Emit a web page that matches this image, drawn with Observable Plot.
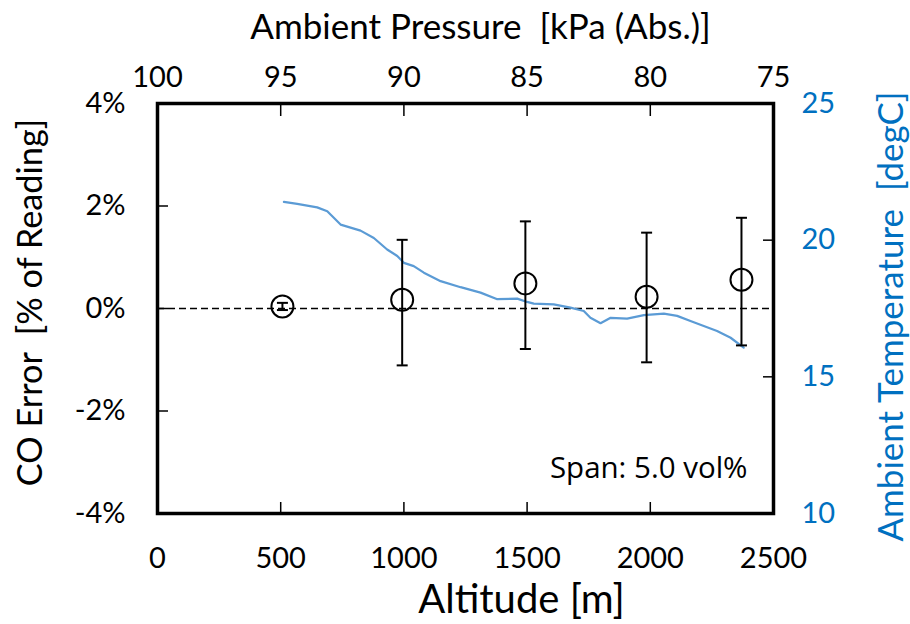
<!DOCTYPE html>
<html>
<head>
<meta charset="utf-8">
<script src="https://cdn.jsdelivr.net/npm/d3@7"></script>
<script src="https://cdn.jsdelivr.net/npm/@observablehq/plot@0.6"></script>
<style>
  html, body { margin: 0; padding: 0; background: white; }
</style>
</head>
<body>
<div id="chart"></div>
<script>
// ---- Data ----
const altitudes = [507, 993, 1493, 1985, 2370];          // m
const coError   = [0.04, 0.17, 0.49, 0.23, 0.56];        // % of reading
const errLow    = [-0.03, -1.11, -0.79, -1.05, -0.72];
const errHigh   = [0.11, 1.34, 1.70, 1.48, 1.77];

const tempAltitude = [513, 567, 648, 689, 743, 824, 878, 932, 973, 1000, 1040, 1081, 1149, 1230, 1311, 1379, 1460, 1500, 1527, 1608, 1676, 1730, 1757, 1798, 1839, 1906, 1974, 2055, 2109, 2163, 2217, 2271, 2326, 2379];
const temperature  = [21.40, 21.33, 21.20, 21.06, 20.57, 20.35, 20.08, 19.66, 19.42, 19.17, 19.05, 18.81, 18.50, 18.28, 18.08, 17.84, 17.86, 17.74, 17.68, 17.65, 17.53, 17.41, 17.16, 16.96, 17.16, 17.13, 17.26, 17.31, 17.23, 17.04, 16.86, 16.68, 16.43, 16.07];

const altitudeTicks = [0, 500, 1000, 1500, 2000, 2500];
const errorTicks    = [-4, -2, 0, 2, 4];
const pressureTicks = [100, 95, 90, 85, 80, 75];
const tempTicks     = [10, 15, 20, 25];

// ---- Secondary-axis mappings ----
const tToY = d3.scaleLinear().domain([10, 25]).range([-4, 4]);
const pToX = d3.scaleLinear().domain([100, 75]).range([0, 2500]);

const points = altitudes.map((a, i) => ({alt: a, err: coError[i], lo: errLow[i], hi: errHigh[i]}));
const tempRows = tempAltitude.map((a, i) => ({alt: a, t: temperature[i]}));

const capSymbol = {
  draw(context, size) {
    const r = Math.sqrt(size / Math.PI);
    context.moveTo(-r, 0);
    context.lineTo(r, 0);
  }
};

const BLUE_TEXT = "#0070C0";
const BLUE_LINE = "#5B9BD5";
const FS = 29;

const chart = Plot.plot({
  width: 910,
  height: 624,
  marginLeft: 157,
  marginRight: 137,
  marginTop: 103,
  marginBottom: 111,
  style: {fontFamily: "Lato, 'Open Sans', sans-serif", background: "white", color: "black", overflow: "visible"},
  x: {domain: [0, 2500]},
  y: {domain: [-4, 4]},
  marks: [
    Plot.ruleY([0], {stroke: "black", strokeWidth: 1.6, strokeDasharray: "7,4"}),
    Plot.line(tempRows, {x: "alt", y: d => tToY(d.t), stroke: BLUE_LINE, strokeWidth: 2.2}),
    Plot.ruleX(points, {x: "alt", y1: "lo", y2: "hi", stroke: "black", strokeWidth: 2}),
    Plot.dot(points, {x: "alt", y: "lo", symbol: capSymbol, r: 5.5, stroke: "black", strokeWidth: 2}),
    Plot.dot(points, {x: "alt", y: "hi", symbol: capSymbol, r: 5.5, stroke: "black", strokeWidth: 2}),
    Plot.dot(points, {x: "alt", y: "err", r: 11, stroke: "black", strokeWidth: 2, fill: "none"}),

    Plot.axisX({anchor: "bottom", ticks: altitudeTicks, tickSize: -11, tickPadding: 45, tickFormat: d => String(d), fontSize: FS, label: null, strokeWidth: 1.5}),
    Plot.axisX({anchor: "top", ticks: pressureTicks.map(p => pToX(p)), tickSize: -12, tickPadding: 29, tickFormat: d => String(Math.round(pToX.invert(d))), fontSize: FS, label: null, strokeWidth: 1.5}),
    Plot.axisY({anchor: "left", ticks: errorTicks, tickSize: -11, tickPadding: 43, tickFormat: d => `${d}%`, fontSize: FS, label: null, strokeWidth: 1.5}),
    Plot.axisY({anchor: "right", ticks: tempTicks.map(t => tToY(t)), tickSize: -11, tickPadding: 39, tickFormat: d => String(Math.round(tToY.invert(d))), fontSize: FS, label: null, fill: BLUE_TEXT, stroke: "black", strokeWidth: 1.5}),

    Plot.text(["Altitude [m]"], {frameAnchor: "bottom", textAnchor: "middle", lineAnchor: "middle", dx: 56, dy: 87, fontSize: 40}),
    Plot.text(["Ambient Pressure\u00a0 [kPa (Abs.)]"], {frameAnchor: "top", textAnchor: "middle", lineAnchor: "middle", dx: 15, dy: -76, fontSize: 35}),
    Plot.text(["CO Error\u00a0 [% of Reading]"], {frameAnchor: "left", textAnchor: "middle", lineAnchor: "middle", dx: -126, dy: -6, rotate: -90, fontSize: 34.3}),
    Plot.text(["Ambient Temperature\u00a0 [degC]"], {frameAnchor: "right", textAnchor: "middle", lineAnchor: "middle", dx: 118, dy: 8, rotate: -90, fontSize: 35, fill: BLUE_TEXT}),
    Plot.text(["Span: 5.0 vol%"], {frameAnchor: "bottom-right", textAnchor: "end", lineAnchor: "bottom", dx: -26, dy: -36, fontSize: 29.5, fontFamily: "'Open Sans', sans-serif"}),

    Plot.frame({stroke: "black", strokeWidth: 3.5})
  ]
});

document.getElementById("chart").appendChild(chart);
</script>
</body>
</html>
